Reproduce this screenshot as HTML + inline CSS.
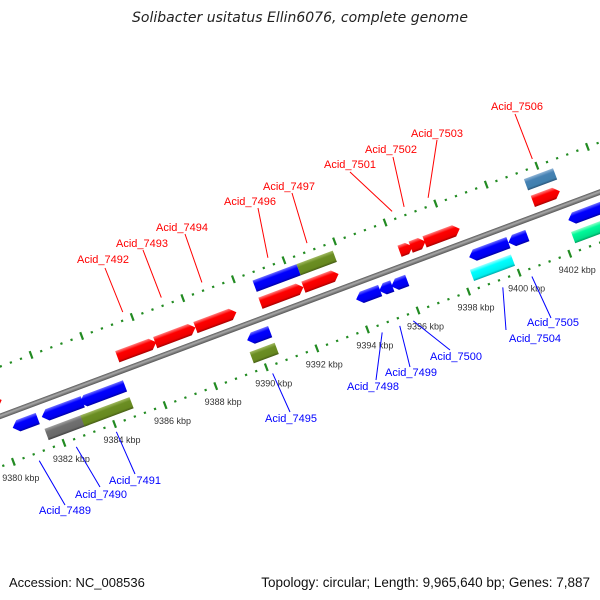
<!DOCTYPE html>
<html><head><meta charset="utf-8">
<style>
html,body{margin:0;padding:0;background:#fff;}
svg{display:block;font-family:"Liberation Sans",sans-serif;}
</style></head>
<body>
<svg id="chart" width="600" height="600" viewBox="0 0 600 600" xmlns="http://www.w3.org/2000/svg">
<defs>
<linearGradient id="g-red" x1="0" y1="0" x2="0" y2="1"><stop offset="0" stop-color="#ff8080"/><stop offset="0.3" stop-color="#ff0000"/><stop offset="0.8" stop-color="#ee0000"/><stop offset="1" stop-color="#a00000"/></linearGradient>
<linearGradient id="g-blue" x1="0" y1="0" x2="0" y2="1"><stop offset="0" stop-color="#7070ff"/><stop offset="0.3" stop-color="#0000ff"/><stop offset="0.8" stop-color="#0000ee"/><stop offset="1" stop-color="#0000a0"/></linearGradient>
<linearGradient id="g-olive" x1="0" y1="0" x2="0" y2="1"><stop offset="0" stop-color="#9fb860"/><stop offset="0.3" stop-color="#6b8e23"/><stop offset="0.8" stop-color="#66881f"/><stop offset="1" stop-color="#445a14"/></linearGradient>
<linearGradient id="g-gray" x1="0" y1="0" x2="0" y2="1"><stop offset="0" stop-color="#a0a0a0"/><stop offset="0.3" stop-color="#707070"/><stop offset="0.8" stop-color="#696969"/><stop offset="1" stop-color="#404040"/></linearGradient>
<linearGradient id="g-steel" x1="0" y1="0" x2="0" y2="1"><stop offset="0" stop-color="#8fb4d6"/><stop offset="0.3" stop-color="#4682b4"/><stop offset="0.8" stop-color="#4080ae"/><stop offset="1" stop-color="#2a5478"/></linearGradient>
<linearGradient id="g-cyan" x1="0" y1="0" x2="0" y2="1"><stop offset="0" stop-color="#a0ffff"/><stop offset="0.3" stop-color="#00ffff"/><stop offset="0.8" stop-color="#00eeee"/><stop offset="1" stop-color="#00a8a8"/></linearGradient>
<linearGradient id="g-green" x1="0" y1="0" x2="0" y2="1"><stop offset="0" stop-color="#90ffc8"/><stop offset="0.3" stop-color="#00fa9a"/><stop offset="0.8" stop-color="#00e08a"/><stop offset="1" stop-color="#00a060"/></linearGradient>
<linearGradient id="g-bb" x1="0" y1="0" x2="0" y2="1"><stop offset="0" stop-color="#555"/><stop offset="0.4" stop-color="#aaa"/><stop offset="1" stop-color="#555"/></linearGradient>
</defs>
<text x="300" y="22" text-anchor="middle" font-size="14" font-family="DejaVu Sans, sans-serif" font-style="italic" fill="#222">Solibacter usitatus Ellin6076, complete genome</text>
<g id="rot"></g>
<g id="ann"></g>
<text x="9" y="587" font-size="13" fill="#111">Accession: NC_008536</text>
<text x="590" y="587" text-anchor="end" font-size="13.5" fill="#111">Topology: circular; Length: 9,965,640 bp; Genes: 7,887</text>
</svg>
<script>
// data
const geneStarts = [9384.97, 9386.47, 9388.06, 9390.63, 9392.33, 9396.13, 9396.57, 9397.12, 9401.40, 9379.5,
  9390.65, 9392.39, 9401.38,
  9380.42, 9381.57, 9383.07, 9389.69, 9394.0, 9394.91, 9395.39, 9398.47, 9400.02, 9402.39,
  9381.51, 9382.93, 9389.62, 9398.33, 9402.33];
const geneEnds = [9386.51, 9388.06, 9389.68, 9392.33, 9393.72, 9396.65, 9397.16, 9398.51, 9402.47, 9380.4,
  9392.39, 9393.82, 9402.53,
  9381.41, 9383.19, 9384.86, 9390.60, 9394.95, 9395.43, 9396.02, 9400.02, 9400.77, 9403.8,
  9383.09, 9384.87, 9390.61, 9399.95, 9403.6];
const geneRows = [-1,-1,-1,-1,-1,-1,-1,-1,-1,-1, -2,-2,-2, 1,1,1,1,1,1,1,1,1,1, 2,2,2,2,2];
const geneColors = ['red','red','red','red','red','red','red','red','red','red','blue','olive','steel',
  'blue','blue','blue','blue','blue','blue','blue','blue','blue','blue','gray','olive','olive','cyan','green'];
const geneNames = ['Acid_7492','Acid_7493','Acid_7494','Acid_7496','Acid_7497','Acid_7501','Acid_7502','Acid_7503','Acid_7506','',
  '','','', 'Acid_7489','Acid_7490','Acid_7491','Acid_7495','Acid_7498','Acid_7499','Acid_7500','Acid_7504','Acid_7505','',
  '','','','',''];
const tickValues = [9378,9380,9382,9384,9386,9388,9390,9392,9394,9396,9398,9400,9402,9404];
const tickLabels = ['9378 kbp','9380 kbp','9382 kbp','9384 kbp','9386 kbp','9388 kbp','9390 kbp','9392 kbp','9394 kbp','9396 kbp','9398 kbp','9400 kbp','9402 kbp','9404 kbp'];

// axis
const ANG = 20.5;
const K0 = 9384, PX = 27.0, OX = 98, OY = 380, TH = ANG*Math.PI/180;
const C = Math.cos(TH), S = Math.sin(TH);
function ux(k){ return (k - K0) * PX; }
function scr(k, v){ const u = ux(k); return [OX + u*C + v*S, OY - u*S + v*C]; }
const rowV = {'-2':-33, '-1':-15, '1':15, '2':33};
const labelPos = {
 'Acid_7492':[77,263],'Acid_7493':[116,247],'Acid_7494':[156,231],'Acid_7496':[224,205],'Acid_7497':[263,190],
 'Acid_7501':[324,168],'Acid_7502':[365,153],'Acid_7503':[411,137],'Acid_7506':[491,110],
 'Acid_7489':[39,514],'Acid_7490':[75,498],'Acid_7491':[109,484],'Acid_7495':[265,422],'Acid_7498':[347,390],
 'Acid_7499':[385,376],'Acid_7500':[430,360],'Acid_7504':[509,342],'Acid_7505':[527,326]};
const lineAnchor = {
 'Acid_7492':[105,268],'Acid_7493':[143,250],'Acid_7494':[185,234],'Acid_7496':[258,208],'Acid_7497':[292,193],
 'Acid_7501':[350,172],'Acid_7502':[393,157],'Acid_7503':[437,140],'Acid_7506':[515,114],
 'Acid_7489':[65,505],'Acid_7490':[100,487],'Acid_7491':[135,474],'Acid_7495':[290,412],'Acid_7498':[376,380],
 'Acid_7499':[410,367],'Acid_7500':[450,350],'Acid_7504':[506,330],'Acid_7505':[551,318]};

const NS = 'http://www.w3.org/2000/svg';
const rot = document.getElementById('rot');
const ann = document.getElementById('ann');
rot.setAttribute('transform', `translate(${OX},${OY}) rotate(${-ANG})`);

function mk(tag, parent, attrs){ const e = document.createElementNS(NS, tag); for (const k in attrs) e.setAttribute(k, attrs[k]); parent.appendChild(e); return e; }

const bb = mk('rect', rot, {x: ux(9370), y: -3, width: ux(9410)-ux(9370), height: 5.5, fill: 'url(#g-bb)'});



[-47, 47].forEach(function(v){
  for (let i = 0; i <= 100; i++) {
    const k = 9376 + i*0.4;
    const isMajor = Math.abs((k - 9376)/2 - Math.round((k-9376)/2)) < 0.01;
    if (isMajor) continue;
    const d = mk('rect', rot, {x: ux(k)-1, y: v-1, width: 2.2, height: 2.2, fill: '#228b22'});
    
    
  }
  tickValues.forEach(function(k){
    const t = mk('rect', rot, {x: ux(k)-1, y: v-4, width: 2.2, height: 8, fill: '#228b22'});
    
    
  });
});
tickValues.forEach(function(k, i){
  const p = scr(k, 47);
  const t = mk('text', ann, {x: p[0]-11, y: p[1]+19, 'font-size': 9, fill: '#333'});
  t.textContent = tickLabels[i];
  
  
});

geneStarts.forEach(function(s, i){
  const e = geneEnds[i], row = geneRows[i], v = rowV[String(row)];
  const x0 = ux(s), x1 = ux(e), h = 6;
  let pts;
  const tip = Math.min(6, (x1-x0)*0.5);
  if (row === -1) pts = [[x0,v-h],[x1-tip,v-h],[x1,v],[x1-tip,v+h],[x0,v+h]];
  else if (row === 1) pts = [[x0+tip,v-h],[x1,v-h],[x1,v+h],[x0+tip,v+h],[x0,v]];
  else pts = [[x0,v-h],[x1,v-h],[x1,v+h],[x0,v+h]];
  const g = mk('polygon', rot, {points: pts.map(p=>p.join(',')).join(' '), fill: 'url(#g-' + geneColors[i] + ')'});
  
  
  const nm = geneNames[i];
  if (nm && labelPos[nm]) {
    const col = row < 0 ? '#ff0000' : '#0000ff';
    const a = scr((s+e)/2, row < 0 ? -55 : 55);
    const la = lineAnchor[nm];
    const ln = mk('line', ann, {x1: a[0], y1: a[1], x2: la[0], y2: la[1], stroke: col, 'stroke-width': 1});
    
    
    const t = mk('text', ann, {x: labelPos[nm][0], y: labelPos[nm][1], 'font-size': 11, fill: col});
    t.textContent = nm;
    
    
  }
});
</script>
</body></html>
